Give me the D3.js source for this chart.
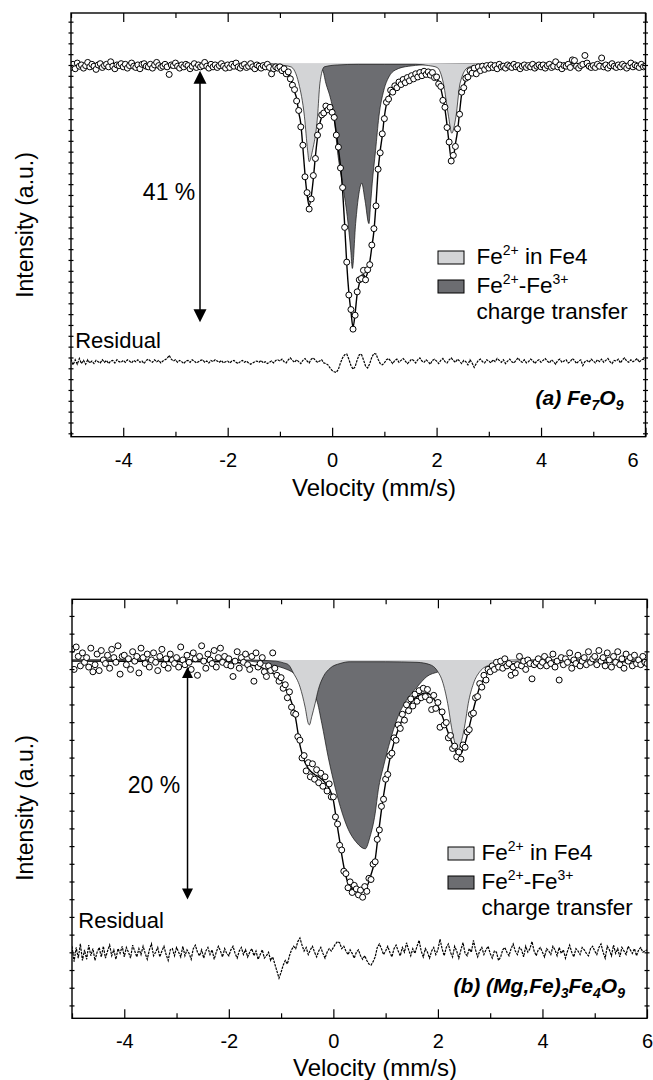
<!DOCTYPE html>
<html><head><meta charset="utf-8">
<script src="https://cdn.jsdelivr.net/npm/d3@7"></script>
<style>
body{margin:0;background:#fff}
svg{display:block}
text{font-family:"Liberation Sans",Arial,Helvetica,sans-serif;fill:#000}
</style>
</head><body>
<svg id="chart" width="653" height="1080"></svg>
<script>
// ---------- channel grid (velocity of each spectrometer channel) ----------
const channelStart = -5.0;
const channelStep = 0.04;

// ---------- axis tick values ----------
const xMajorTicks = [-4, -2, 0, 2, 4, 6];
const xMinorTicks = [-5, -3, -1, 1, 3, 5];

// ---------- panel (a) Fe7O9 : measured transmission (%) per channel ----------
const dataA = [
 99.4,99.9,99.2,100.1,99.6,99.8,99.3,99.7,100.2,99.5,99.9,99.6,99.1,99.8,100.0,99.4,99.7,99.9,99.5,100.3,99.6,99.2,99.8,99.7,100.0,
 99.5,99.9,99.3,99.7,100.1,99.6,99.4,99.8,99.2,99.9,100.0,99.6,99.5,99.9,99.3,99.8,100.2,99.7,99.4,99.6,99.9,99.5,98.3,99.8,99.7,
 100.1,99.6,99.3,99.8,99.5,99.9,99.7,99.2,99.6,100.0,99.4,99.8,99.5,99.7,100.2,99.6,99.3,99.9,99.5,99.8,99.4,99.7,100.0,99.6,99.3,
 99.8,99.4,99.9,99.6,100.1,99.5,99.3,99.7,99.9,99.4,99.6,100.0,99.5,99.2,99.8,99.6,99.3,99.7,99.5,99.9,99.4,98.4,99.2,99.5,99.3,
 99.5,98.9,99.2,98.4,98.7,97.6,96.6,95.9,94.1,92.6,90.0,87.1,82.1,79.6,77.0,78.6,82.3,85.0,88.7,90.1,91.9,92.2,93.3,92.7,93.1,
 92.3,91.5,88.7,86.8,83.5,80.4,74.1,68.6,63.4,61.1,58.0,60.2,63.9,65.8,66.0,67.3,65.8,67.4,68.2,71.3,73.9,77.5,83.3,85.9,88.9,
 91.3,93.9,94.4,95.8,95.5,96.5,96.2,97.1,96.7,97.5,97.0,97.8,97.3,98.1,97.6,98.4,97.9,98.6,98.1,98.8,98.3,98.7,98.2,98.6,97.8,
 97.9,96.8,96.4,94.2,93.1,89.9,87.6,84.6,85.5,86.9,89.7,92.0,95.5,96.2,97.7,97.9,98.9,98.5,99.3,98.4,99.5,98.9,99.6,99.1,99.7,
 99.3,99.8,99.4,99.7,99.2,99.9,99.5,99.6,99.3,99.8,99.6,99.4,99.9,99.5,99.7,99.2,99.6,99.8,99.4,99.7,99.5,99.9,99.3,99.6,99.8,
 99.5,99.8,99.3,99.7,99.9,99.4,99.6,100.3,99.5,99.8,99.2,99.7,99.6,99.9,99.4,100.6,100.5,99.6,99.3,99.7,99.9,101.3,100.1,99.6,99.4,
 99.7,99.4,99.9,99.6,100.9,99.5,99.8,99.3,99.7,100.0,99.6,99.4,99.8,99.5,99.9,99.6,99.3,99.7,100.1,99.5,99.8,99.6,99.4,99.9,99.5,
 99.6
];
// residual (%) per channel
const residA = [
 0.4,-0.5,0.3,-0.4,0.5,-0.3,0.2,-0.4,0.3,-0.2,0.1,-0.3,0.2,0.0,-0.2,0.3,-0.1,0.2,-0.3,0.1,0.2,-0.2,0.3,0.0,-0.1,
 0.2,-0.1,0.3,0.1,-0.2,0.2,0.0,0.3,-0.1,0.1,-0.3,0.2,0.4,0.1,-0.1,0.3,0.0,0.2,-0.2,0.1,0.3,0.5,1.0,0.4,0.1,
 0.3,-0.1,0.2,0.0,-0.3,0.1,0.2,-0.1,0.3,0.1,-0.2,0.0,0.2,0.3,-0.1,0.1,-0.2,0.2,0.0,0.3,0.1,-0.1,0.2,-0.2,0.0,
 0.1,-0.2,0.1,0.2,-0.1,-0.3,0.0,0.2,-0.1,0.1,-0.2,-0.4,-0.2,0.0,0.1,-0.1,0.2,-0.2,0.0,-0.3,-0.1,0.1,-0.2,0.2,0.3,
 0.1,0.4,0.0,-0.2,0.3,0.6,0.2,-0.1,0.3,0.0,-0.3,0.2,0.5,0.1,-0.2,0.4,0.6,0.2,-0.1,0.1,0.3,-0.2,-0.3,-0.5,-1.0,
 -1.4,-1.6,-1.7,-1.2,-0.2,0.6,1.1,1.2,0.4,-0.6,-1.2,-0.8,0.3,1.1,1.2,0.3,-0.7,-1.0,-0.3,0.7,1.3,1.2,0.4,-0.3,-0.5,
 -0.2,0.3,0.5,0.1,-0.3,0.2,0.4,-0.1,0.2,0.5,0.1,-0.3,0.0,0.4,0.2,-0.2,0.3,0.6,0.1,-0.1,0.3,0.0,-0.4,0.2,0.4,
 0.1,-0.3,0.2,0.5,0.0,-0.2,0.3,0.6,0.2,-0.1,0.4,0.1,-0.3,0.2,0.0,-0.5,0.3,-0.2,-0.9,-0.3,0.2,0.4,0.0,-0.2,0.3,
 0.1,-0.2,0.3,0.0,0.5,0.2,-0.1,0.3,-0.3,0.1,0.4,0.0,-0.2,0.2,0.6,0.1,-0.1,0.3,-0.2,0.0,0.4,0.2,-0.3,0.1,0.3,
 -0.1,0.2,0.5,0.1,-0.2,0.3,0.0,-0.4,0.2,0.4,-0.1,0.1,0.3,-0.2,0.0,0.5,0.2,-0.3,0.1,0.3,-0.6,0.0,0.2,-0.1,0.4,
 0.1,-0.2,0.3,0.0,0.4,-0.1,0.2,0.5,0.0,-0.3,0.2,0.1,0.4,-0.2,0.3,0.6,0.1,-0.1,0.3,0.0,0.2,0.5,-0.1,0.3,0.4,
 0.2
];
// total fit (velocity, %)
const fitA_v = [-5,-2,-1.2,-1.08,-1.0,-0.92,-0.84,-0.80,-0.76,-0.72,-0.68,-0.64,-0.60,-0.56,-0.52,-0.48,-0.44,-0.40,-0.36,-0.32,-0.28,-0.24,-0.20,-0.16,-0.12,-0.08,-0.04,0,0.04,0.08,0.12,0.16,0.20,0.24,0.28,0.32,0.36,0.40,0.44,0.48,0.52,0.56,0.60,0.64,0.68,0.72,0.76,0.80,0.84,0.88,0.92,0.96,1.00,1.04,1.08,1.16,1.24,1.32,1.44,1.60,1.72,1.84,1.92,1.96,2.00,2.04,2.08,2.12,2.16,2.20,2.24,2.28,2.32,2.36,2.40,2.44,2.48,2.52,2.56,2.60,2.68,2.80,3.0,3.4,6];
const fitA_y = [99.6,99.6,99.6,99.4,99.3,99.0,98.5,98.0,96.9,95.6,94.5,92.3,90.5,86.7,82.5,79.3,77.5,79.0,81.8,85.4,88.3,90.4,91.6,92.4,92.9,93.0,92.9,92.6,91.2,89.0,86.5,83.8,80.0,74.5,68.3,63.8,60.8,58.3,60.5,63.6,65.2,66.5,66.6,66.2,67.0,68.6,71.0,73.5,77.8,83.0,86.2,88.6,91.6,93.6,94.7,95.8,96.5,97.0,97.5,98.1,98.4,98.5,98.3,98.1,97.7,97.1,96.1,94.6,92.8,90.3,87.3,85.0,85.2,87.3,89.3,92.3,95.2,96.5,97.4,98.2,98.8,99.2,99.5,99.6,99.6];
// component: Fe2+ in Fe4
const fe4A_v = [-5,-1.3,-1.0,-0.79,-0.64,-0.53,-0.47,-0.44,-0.375,-0.28,-0.234,-0.15,0.1,0.5,1.0,1.6,1.85,2.01,2.13,2.23,2.29,2.37,2.45,2.60,2.75,3.0,3.5,6];
const fe4A_y = [100,100,99.8,99.5,96.9,91.6,86.3,84.5,86.3,91.6,96.9,99.5,99.8,99.9,99.9,99.9,99.7,99.4,96.9,91.6,89.0,91.6,96.9,99.4,99.7,99.9,100,100];
// component: Fe2+-Fe3+ charge transfer
const ctA_v = [-5,-1.2,-0.9,-0.6,-0.4,-0.215,-0.185,-0.12,-0.025,0.038,0.10,0.196,0.29,0.356,0.387,0.45,0.514,0.566,0.629,0.705,0.737,0.768,0.832,0.895,0.99,1.086,1.21,1.467,1.975,2.5,3.0,6];
const ctA_y = [100,100,99.8,99.5,99.3,99.1,99.0,96.9,94.3,91.6,86.3,81.1,75.8,70.5,67.6,74.7,79.5,81.1,78.4,74.7,77.9,81.1,86.3,91.6,95.8,97.9,99.0,99.6,99.9,99.95,100,100];

// ---------- panel (b) (Mg,Fe)3Fe4O9 ----------
const dataB = [
 100.9,99.2,101.1,100.3,99.5,100.6,99.8,100.2,99.4,101.0,99.0,99.6,100.5,99.1,100.8,100.0,99.7,100.4,99.3,100.9,100.2,99.8,101.2,98.8,100.3,
 100.4,99.6,100.1,99.2,100.7,99.9,100.3,98.9,101.0,100.2,99.7,100.5,99.4,100.0,100.6,99.8,99.1,100.3,100.9,99.6,100.1,99.3,100.5,100.0,99.7,
 100.2,99.4,101.1,100.0,99.6,100.4,99.8,99.2,100.6,100.1,98.7,100.3,101.2,99.9,99.3,100.5,100.0,99.7,100.8,99.4,100.2,101.0,99.8,100.3,99.6,
 100.1,99.5,98.6,99.9,100.7,99.3,100.2,99.8,100.5,99.6,99.2,100.3,98.2,100.6,99.4,99.7,100.2,99.0,98.6,99.5,99.1,100.6,99.3,98.7,98.2,
 98.5,97.6,97.9,96.8,97.3,96.0,95.5,95.4,93.5,93.2,91.7,91.9,90.6,91.3,90.1,91.2,89.9,90.7,89.6,90.4,89.3,90.1,88.9,89.5,88.4,
 88.4,86.7,86.1,84.3,83.9,82.1,81.9,80.7,81.2,80.3,80.9,80.6,80.1,80.5,79.9,80.8,80.4,81.5,81.4,82.7,82.9,84.8,85.6,87.6,88.2,
 89.9,90.3,91.9,92.1,93.4,93.2,94.5,94.2,95.4,94.9,96.2,95.7,96.7,96.1,97.1,96.5,97.4,96.8,97.6,96.9,97.5,96.6,95.8,97.0,95.9,
 96.4,94.3,95.6,94.5,94.7,93.4,93.6,92.5,92.7,91.8,92.2,91.6,92.8,92.6,93.9,94.1,95.4,95.5,96.8,96.9,98.0,97.7,98.7,98.3,99.2,
 99.0,99.5,99.2,99.8,99.4,99.9,99.3,100.1,99.5,99.7,98.7,99.4,98.9,99.6,100.3,99.5,99.9,99.2,100.0,99.7,98.4,99.6,99.8,100.1,99.5,
 99.8,100.3,99.5,100.0,99.7,100.5,99.4,99.9,98.3,100.2,99.6,100.1,99.8,100.6,99.3,100.0,99.7,100.4,99.5,99.9,100.2,99.6,100.7,99.8,100.1,
 100.3,99.6,100.8,99.9,100.2,99.5,100.6,100.0,99.4,100.3,99.8,100.7,99.6,100.1,99.3,100.5,99.9,100.2,99.5,100.4,99.7,100.0,99.6,100.3,99.8,
 99.7
];
const residB = [
 0.6,-0.7,0.5,-0.4,0.8,-0.6,0.3,-0.5,0.7,-0.2,0.4,-0.6,0.1,0.5,-0.3,0.6,-0.4,0.2,0.7,-0.2,0.3,-0.5,0.4,0.0,0.6,
 -0.3,0.5,0.1,-0.4,0.7,0.2,-0.3,0.4,-0.1,0.6,0.0,-0.5,0.3,0.8,-0.2,0.1,0.5,-0.3,0.2,0.6,-0.1,-0.6,0.3,0.4,-0.2,
 0.5,0.1,-0.3,0.6,-0.2,0.3,0.0,-0.5,0.4,0.7,0.1,-0.2,0.3,-0.4,0.2,0.5,-0.1,0.3,-0.5,0.1,0.6,0.2,-0.3,0.4,0.0,
 -0.2,0.3,0.6,0.0,-0.4,0.2,0.5,-0.1,0.3,-0.3,0.1,0.4,-0.2,0.2,-0.5,-0.1,0.3,-0.4,-0.2,0.1,-0.6,-0.3,-0.9,-1.5,-2.1,
 -1.6,-1.0,-0.6,-0.9,-0.2,0.3,0.6,0.4,1.0,1.3,0.7,0.2,0.5,-0.1,0.3,0.6,0.1,-0.3,0.2,0.5,0.0,-0.4,0.1,0.4,0.2,
 0.5,0.8,1.0,0.9,0.4,0.6,0.2,-0.1,0.3,0.0,-0.4,0.1,0.3,-0.2,-0.5,-0.2,-0.6,-0.9,-1.0,-0.7,-0.3,0.5,0.8,0.4,-0.1,
 0.2,0.6,0.1,-0.3,0.4,0.7,0.2,-0.2,0.5,0.1,0.9,0.3,-0.2,0.4,0.0,0.6,1.1,0.2,-0.3,0.4,0.1,-0.4,0.2,0.5,-0.1,
 0.3,1.2,0.4,-0.2,0.5,0.8,0.1,-0.3,0.6,0.2,-0.4,0.3,0.9,0.0,-0.2,0.4,0.1,1.1,0.3,-0.3,0.2,0.5,-0.1,0.3,0.6,
 0.0,-0.4,0.2,0.1,-0.6,-0.3,0.3,0.5,0.1,-0.2,0.4,0.8,0.2,-0.1,0.5,0.3,-0.3,0.6,0.1,0.4,1.0,0.2,-0.2,0.3,0.5,
 0.1,-0.3,0.4,0.2,-0.1,0.6,0.3,-0.2,0.5,0.0,0.3,-0.4,0.2,0.7,0.1,-0.3,0.4,0.2,-0.1,0.5,0.3,0.0,-0.2,0.4,0.6,
 0.2,-0.1,0.5,0.8,0.1,-0.4,0.6,0.3,-0.2,0.7,0.0,0.4,-0.3,0.5,0.2,-0.1,0.6,0.3,0.0,0.4,-0.2,0.3,0.5,0.1,0.2,
 0.3
];
const fitB_v = [-5,-2.0,-1.6,-1.4,-1.2,-1.08,-1.0,-0.92,-0.84,-0.76,-0.72,-0.68,-0.64,-0.60,-0.56,-0.52,-0.44,-0.36,-0.28,-0.20,-0.12,-0.04,0.0,0.04,0.08,0.12,0.16,0.20,0.24,0.28,0.32,0.40,0.48,0.56,0.60,0.64,0.68,0.72,0.76,0.80,0.84,0.88,0.92,0.96,1.00,1.08,1.16,1.24,1.32,1.40,1.52,1.64,1.76,1.84,1.92,2.00,2.08,2.16,2.24,2.32,2.40,2.48,2.56,2.64,2.72,2.80,2.88,3.00,3.20,3.8,5.0,6.0];
const fitB_y = [99.9,99.85,99.6,99.4,99.0,98.6,98.2,97.6,96.9,95.8,95.0,93.9,92.8,92.1,91.5,91.1,90.6,90.3,90.1,89.8,89.4,88.7,88.1,87.0,85.8,84.7,83.5,82.5,81.7,81.1,80.8,80.5,80.4,80.45,80.5,80.8,81.2,81.8,82.4,83.1,84.5,85.9,87.3,88.5,89.6,91.6,93.0,94.1,95.0,95.8,96.6,97.0,97.2,97.1,96.7,96.1,95.3,94.3,93.3,92.4,91.9,92.4,93.6,95.1,96.5,97.7,98.4,99.2,99.5,99.8,99.8,99.9];
const fe4B_v = [-5,-1.6,-1.1,-0.95,-0.86,-0.765,-0.637,-0.54,-0.478,-0.459,-0.413,-0.35,-0.287,-0.19,-0.063,0.128,0.32,1.0,1.6,1.85,1.977,2.10,2.20,2.26,2.33,2.39,2.455,2.52,2.58,2.68,2.80,3.0,3.19,3.5,4.0,6];
const fe4B_y = [100,100,99.9,99.75,99.6,98.9,97.7,96.0,94.6,94.5,95.2,96.3,97.5,98.6,99.3,99.7,99.85,99.85,99.8,99.6,99.15,98.0,96.0,94.3,92.9,92.4,93.2,94.6,96.3,98.0,99.0,99.6,99.8,99.9,100,100];
const ctB_v = [-5,-2.0,-1.59,-1.21,-0.95,-0.76,-0.55,-0.32,-0.22,-0.10,0.0,0.13,0.26,0.45,0.61,0.70,0.80,0.86,0.96,1.09,1.21,1.40,1.60,1.79,2.01,2.4,3.0,3.5,6];
const ctB_y = [100,100,99.9,99.6,99.3,98.9,98.0,96.6,94.6,91.8,89.8,87.6,85.9,84.5,84.0,85.0,87.0,89.0,91.0,93.2,94.9,96.6,97.7,98.6,99.0,99.5,99.9,100,100];

// ---------- styles ----------
const LIGHT = "#d3d4d6";
const DARK = "#6c6d71";

const panels = [
  { id:"a", L:71, R:645.5, T:13, B:436.7, yDom:[40.98,108.02], yTick0:106.65, yTickStep:1.714,
    data:dataA, resid:residA, resBase:52.85, fitV:fitA_v, fitY:fitA_y, fe4V:fe4A_v, fe4Y:fe4A_y, ctV:ctA_v, ctY:ctA_y,
    arrow:{v:-2.53, top:98.9, bot:59.1, head:13}, pct:{text:"41 %", v:-2.62, y:78.5},
    resLabel:{v:-4.92, y:55.0}, six:-13,
    legend:{box:[438,251], text:476.5, base:[264,293,319]},
    sample:{x:623.5, y:405, parts:[["(a) Fe",0],["7",1],["O",0],["9",1]]},
    xlab:496, ylabY:225 },
  { id:"b", L:72, R:647, T:599.3, B:1018.3, yDom:[69.64,105.14], yTick0:103.73, yTickStep:1.5,
    data:dataB, resid:residB, resBase:75.14, fitV:fitB_v, fitY:fitB_y, fe4V:fe4B_v, fe4Y:fe4B_y, ctV:ctB_v, ctY:ctB_y,
    arrow:{v:-2.79, top:99.4, bot:79.7, head:11}, pct:{text:"20 %", v:-2.93, y:88.7},
    resLabel:{v:-4.88, y:77.3}, six:0,
    legend:{box:[448,847], text:481.5, base:[860,889,915]},
    sample:{x:625, y:993, parts:[["(b) (Mg,Fe)",0],["3",1],["Fe",0],["4",1],["O",0],["9",1]]},
    xlab:1076, ylabY:808 }
];

const svg = d3.select("#chart");
const defs = svg.append("defs");

panels.forEach(p => {
  const x = d3.scaleLinear().domain([-5, 6]).range([p.L, p.R]);
  const y = d3.scaleLinear().domain(p.yDom).range([p.B, p.T]);
  defs.append("clipPath").attr("id", "clip" + p.id).append("rect")
    .attr("x", p.L).attr("y", p.T).attr("width", p.R - p.L).attr("height", p.B - p.T);
  const g = svg.append("g").attr("clip-path", `url(#clip${p.id})`);
  const zip = (vs, ys) => vs.map((v, i) => ({ v, y: ys[i] }));
  const areaGen = d3.area().x(d => x(d.v)).y0(y(100)).y1(d => y(d.y)).curve(d3.curveMonotoneX);
  const lineGen = d3.line().x(d => x(d.v)).y(d => y(d.y)).curve(d3.curveMonotoneX);
  const ct = zip(p.ctV, p.ctY), fe4 = zip(p.fe4V, p.fe4Y);

  g.append("path").attr("d", areaGen(ct)).attr("fill", DARK);
  g.append("path").attr("d", lineGen(ct)).attr("fill", "none").attr("stroke", "#111").attr("stroke-width", 0.7);
  g.append("path").attr("d", areaGen(fe4)).attr("fill", LIGHT);
  g.append("path").attr("d", lineGen(fe4)).attr("fill", "none").attr("stroke", "#111").attr("stroke-width", 0.7);

  // residual
  const res = p.resid.map((r, i) => ({ v: channelStart + i * channelStep, y: p.resBase + r }));
  g.append("path").attr("d", d3.line().x(d => x(d.v)).y(d => y(d.y))(res))
    .attr("fill", "none").attr("stroke", "#000").attr("stroke-width", 1.2).attr("stroke-dasharray", "2.5,1");

  // fit line
  g.append("path").attr("d", lineGen(zip(p.fitV, p.fitY)))
    .attr("fill", "none").attr("stroke", "#000").attr("stroke-width", 1.4);

  // data points
  g.selectAll("circle.pt").data(p.data).join("circle").attr("class", "pt")
    .attr("cx", (d, i) => x(channelStart + i * channelStep)).attr("cy", d => y(d))
    .attr("r", 3).attr("fill", "#fff").attr("stroke", "#000").attr("stroke-width", 1);

  // arrow
  const ax = x(p.arrow.v), ay1 = y(p.arrow.top), ay2 = y(p.arrow.bot), h = p.arrow.head;
  svg.append("line").attr("x1", ax).attr("x2", ax).attr("y1", ay1 + h * 0.8).attr("y2", ay2 - h * 0.8)
    .attr("stroke", "#000").attr("stroke-width", 1.5);
  svg.append("path").attr("d", `M${ax},${ay1} L${ax - h / 2},${ay1 + h} L${ax + h / 2},${ay1 + h} Z`).attr("fill", "#000");
  svg.append("path").attr("d", `M${ax},${ay2} L${ax - h / 2},${ay2 - h} L${ax + h / 2},${ay2 - h} Z`).attr("fill", "#000");

  svg.append("text").attr("x", x(p.pct.v)).attr("y", y(p.pct.y)).attr("text-anchor", "end")
    .attr("font-size", 23).text(p.pct.text);
  svg.append("text").attr("x", x(p.resLabel.v)).attr("y", y(p.resLabel.y))
    .attr("font-size", 22).text("Residual");

  // legend
  const lg = svg.append("g");
  const bx = p.legend.box[0], by = p.legend.box[1];
  lg.append("rect").attr("x", bx).attr("y", by).attr("width", 26).attr("height", 13)
    .attr("fill", LIGHT).attr("stroke", "#000").attr("stroke-width", 1);
  lg.append("rect").attr("x", bx).attr("y", by + 29).attr("width", 26).attr("height", 13)
    .attr("fill", DARK).attr("stroke", "#000").attr("stroke-width", 1);
  const t1 = lg.append("text").attr("x", p.legend.text).attr("y", p.legend.base[0]).attr("font-size", 22.5);
  t1.append("tspan").text("Fe");
  t1.append("tspan").attr("font-size", 14).attr("dy", -9).text("2+");
  t1.append("tspan").attr("dy", 9).text(" in Fe4");
  const t2 = lg.append("text").attr("x", p.legend.text).attr("y", p.legend.base[1]).attr("font-size", 22.5);
  t2.append("tspan").text("Fe");
  t2.append("tspan").attr("font-size", 14).attr("dy", -9).text("2+");
  t2.append("tspan").attr("dy", 9).text("-Fe");
  t2.append("tspan").attr("font-size", 14).attr("dy", -9).text("3+");
  lg.append("text").attr("x", p.legend.text).attr("y", p.legend.base[2]).attr("font-size", 22.5).text("charge transfer");

  // sample label
  const st = svg.append("text").attr("x", p.sample.x).attr("y", p.sample.y).attr("text-anchor", "end")
    .attr("font-size", 21).attr("font-weight", "bold").attr("font-style", "italic");
  let prevSub = 0;
  p.sample.parts.forEach(([s, sub]) => {
    const dy = sub === prevSub ? 0 : (sub ? 5 : -5);
    st.append("tspan").attr("dy", dy).attr("font-size", sub ? 14 : 21).text(s);
    prevSub = sub;
  });

  // axes
  const fixAxis = sel => { sel.select(".domain").remove(); sel.selectAll("line").attr("stroke", "#000").attr("stroke-width", 1.2); };
  const bAx = svg.append("g").attr("transform", `translate(0,${p.B})`)
    .call(d3.axisBottom(x).tickValues(xMajorTicks).tickSize(-9).tickPadding(16).tickFormat(d => String(d)))
    .call(fixAxis);
  bAx.attr("font-size", 20).attr("font-family", "Liberation Sans, Arial, sans-serif");
  bAx.selectAll("text").attr("fill", "#000").attr("dx", d => d === 6 ? p.six : 0);
  svg.append("g").attr("transform", `translate(0,${p.B})`)
    .call(d3.axisBottom(x).tickValues(xMinorTicks).tickSize(-5).tickFormat("")).call(fixAxis);
  svg.append("g").attr("transform", `translate(0,${p.T})`)
    .call(d3.axisTop(x).tickValues(xMajorTicks).tickSize(-9).tickFormat("")).call(fixAxis);
  svg.append("g").attr("transform", `translate(0,${p.T})`)
    .call(d3.axisTop(x).tickValues(xMinorTicks).tickSize(-5).tickFormat("")).call(fixAxis);
  const yt = d3.range(p.yTick0, p.yDom[0], -p.yTickStep);
  svg.append("g").attr("transform", `translate(${p.L + 2.5},0)`)
    .call(d3.axisLeft(y).tickValues(yt).tickSize(5).tickFormat("")).call(fixAxis);
  svg.append("g").attr("transform", `translate(${p.R - 2.5},0)`)
    .call(d3.axisRight(y).tickValues(yt).tickSize(5).tickFormat("")).call(fixAxis);

  // frame
  svg.append("rect").attr("x", p.L).attr("y", p.T).attr("width", p.R - p.L).attr("height", p.B - p.T)
    .attr("fill", "none").attr("stroke", "#000").attr("stroke-width", 1.4);

  // axis titles
  svg.append("text").attr("x", p.L + 303).attr("y", p.xlab).attr("text-anchor", "middle")
    .attr("font-size", 24).text("Velocity (mm/s)");
  svg.append("text").attr("transform", `translate(33,${p.ylabY}) rotate(-90)`).attr("text-anchor", "middle")
    .attr("font-size", 23).text("Intensity (a.u.)");
});
</script>
</body></html>
